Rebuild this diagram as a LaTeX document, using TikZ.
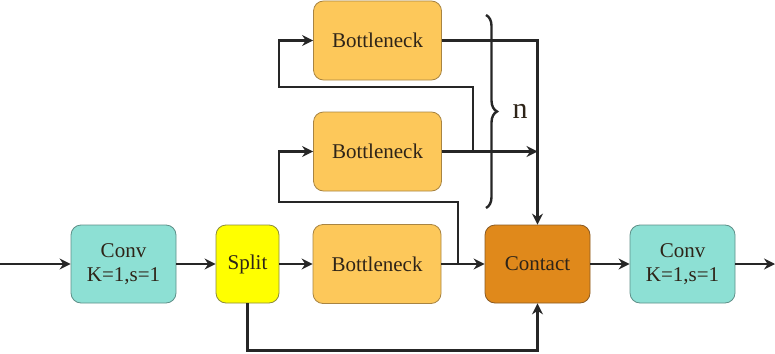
\documentclass[tikz,border=0pt]{standalone}
\usepackage{fontspec}
\setmainfont{Liberation Serif}
\usetikzlibrary{arrows.meta,decorations.pathreplacing}
\definecolor{convfill}{HTML}{8DE0D4}
\definecolor{convdraw}{HTML}{5E8F88}
\definecolor{splitfill}{HTML}{FFFF00}
\definecolor{splitdraw}{HTML}{8C8C3A}
\definecolor{bnfill}{HTML}{FDC85A}
\definecolor{bndraw}{HTML}{A88442}
\definecolor{catfill}{HTML}{E0891B}
\definecolor{catdraw}{HTML}{8A5A22}
\definecolor{txt}{HTML}{2E2418}
\begin{document}
\begin{tikzpicture}[x=1pt,y=-1pt,
  box/.style={rounded corners=10pt,line width=0.8pt,minimum height=78pt,
    inner sep=0pt,align=center,font=\fontsize{21}{24}\selectfont,text=txt},
  convbox/.style={box,fill=convfill,draw=convdraw,minimum width=105pt},
  splitbox/.style={box,fill=splitfill,draw=splitdraw,minimum width=63pt},
  bnbox/.style={box,fill=bnfill,draw=bndraw,minimum width=128pt,minimum height=79pt},
  catbox/.style={box,fill=catfill,draw=catdraw,minimum width=105pt},
  arr/.style={line width=2.4pt,draw=black!85,-{Stealth[length=11pt,width=11pt]}},
  ln/.style={line width=2.4pt,draw=black!85}]
\useasboundingbox (0,0) rectangle (775,353);
\node[convbox] (c1) at (123.5,264) {Conv\\K=1,s=1};
\node[splitbox] (split) at (247.5,264) {Split};
\node[bnbox] (bn3) at (377,264) {Bottleneck};
\node[catbox] (cat) at (537.5,264) {Contact};
\node[convbox] (c2) at (682.5,264) {Conv\\K=1,s=1};
\node[bnbox] (bn1) at (377.5,40.5) {Bottleneck};
\node[bnbox] (bn2) at (377.5,151.5) {Bottleneck};
\coordinate (in) at (0,264);
\coordinate (out) at (775,264);
\coordinate (j3) at (458,264);
\coordinate (l2) at (279,202);
\coordinate (j2) at (473,151.5);
\coordinate (l1) at (279,87);
\coordinate (m2) at (cat.north |- bn2.east);
\path (split.south) ++(0,47) coordinate (b);
\draw[arr] (in) -- (c1);
\draw[arr] (c1) -- (split);
\draw[arr] (split) -- (bn3);
\draw[arr] (bn3) -- (cat);
\draw[arr] (cat) -- (c2);
\draw[arr] (c2) -- (out);
\draw[arr] (j3) |- (l2) |- (bn2.west);
\draw[arr] (j2) |- (l1) |- (bn1.west);
\draw[arr] (bn1.east) -| (cat.north);
\draw[arr] (bn2.east) -- (m2);
\draw[arr] (split.south) -- (b) -| (cat.south);
\draw[ln,decorate,decoration={brace,amplitude=11pt}] (486,15) -- (486,208);
\node[font=\fontsize{30}{34}\selectfont,text=txt] (n) at (520,111) {n};
\end{tikzpicture}
\end{document}
